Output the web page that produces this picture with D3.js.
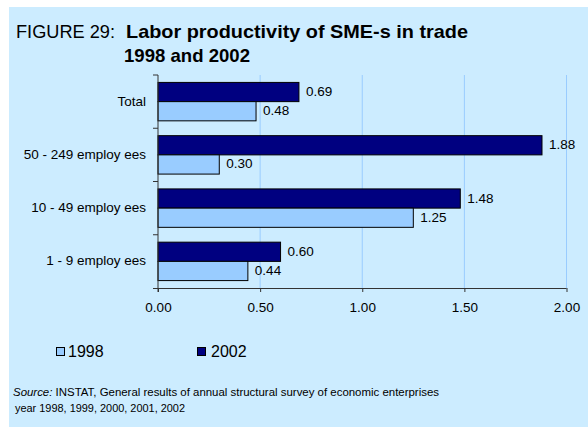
<!DOCTYPE html>
<html>
<head>
<meta charset="utf-8">
<script src="https://cdn.jsdelivr.net/npm/d3@7"></script>
<style>
  html, body { margin: 0; padding: 0; background: #ffffff; }
  svg { display: block; font-family: "Liberation Sans", Arial, sans-serif; }
</style>
</head>
<body>
<svg id="chart" width="588" height="427"></svg>
<script>
// Labor productivity of SME-s in trade, by enterprise size
const categories = ["Total", "50 - 249 employ ees", "10 - 49 employ ees", "1 - 9 employ ees"];
const seriesNames = ["2002", "1998"];
const values1998 = [0.48, 0.30, 1.25, 0.44];
const values2002 = [0.69, 1.88, 1.48, 0.60];
const xTicks = [0, 0.5, 1.0, 1.5, 2.0];
const legendLabels = ["1998", "2002"];

const colors = { "1998": "#99CCFF", "2002": "#000080" };
const bg = "#CCECFF";

const svg = d3.select("#chart");

// panel background
svg.append("rect")
  .attr("x", 9).attr("y", 7)
  .attr("width", 579).attr("height", 420)
  .attr("fill", bg);

// title
svg.append("text")
  .attr("x", 16).attr("y", 37.5)
  .attr("font-size", 19)
  .attr("textLength", 99)
  .attr("lengthAdjust", "spacingAndGlyphs")
  .text("FIGURE 29:");
svg.append("text")
  .attr("x", 126).attr("y", 37.5)
  .attr("font-size", 19)
  .attr("font-weight", "bold")
  .attr("textLength", 342)
  .attr("lengthAdjust", "spacingAndGlyphs")
  .text("Labor productivity of SME-s in trade");
svg.append("text")
  .attr("x", 124).attr("y", 62)
  .attr("font-size", 19)
  .attr("font-weight", "bold")
  .attr("textLength", 126)
  .attr("lengthAdjust", "spacingAndGlyphs")
  .text("1998 and 2002");

// plot area
const plot = { left: 158, right: 566.5, top: 75, bottom: 288 };

const x = d3.scaleLinear()
  .domain([0, 2])
  .range([plot.left, plot.right]);

const y = d3.scaleBand()
  .domain(categories)
  .range([plot.top, plot.bottom])
  .paddingInner(0).paddingOuter(0);

const ySeries = d3.scaleBand()
  .domain(seriesNames)
  .range([0, y.bandwidth()])
  .paddingInner(0)
  .paddingOuter(0.386);

// vertical gridlines
svg.append("g")
  .selectAll("line")
  .data(xTicks.filter(d => d > 0))
  .join("line")
  .attr("x1", d => x(d)).attr("x2", d => x(d))
  .attr("y1", plot.top).attr("y2", plot.bottom)
  .attr("stroke", "#99CCFF")
  .attr("stroke-width", 1);

// rows of data
const rows = categories.map((c, i) => ({
  category: c,
  items: [
    { series: "2002", value: values2002[i] },
    { series: "1998", value: values1998[i] }
  ]
}));

const groups = svg.append("g")
  .selectAll("g")
  .data(rows)
  .join("g")
  .attr("transform", d => `translate(0,${y(d.category)})`);

groups.selectAll("rect")
  .data(d => d.items)
  .join("rect")
  .attr("x", x(0))
  .attr("y", d => ySeries(d.series))
  .attr("width", d => x(d.value) - x(0))
  .attr("height", ySeries.bandwidth())
  .attr("fill", d => colors[d.series])
  .attr("stroke", "#000")
  .attr("stroke-width", 1);

groups.selectAll("text.val")
  .data(d => d.items)
  .join("text")
  .attr("class", "val")
  .attr("x", d => x(d.value) + 7)
  .attr("y", d => ySeries(d.series) + ySeries.bandwidth() / 2 + 4)
  .attr("font-size", 13.5)
  .attr("fill", "#000")
  .text(d => d3.format(".2f")(d.value));

// y axis
const yAxis = d3.axisLeft(y).tickSize(0).tickPadding(12);
const yG = svg.append("g")
  .attr("transform", `translate(${plot.left},0)`)
  .call(yAxis);
yG.select(".domain").remove();
yG.selectAll("text")
  .attr("font-size", 13.5)
  .attr("font-family", "Liberation Sans, Arial, sans-serif")
  .attr("fill", "#000")
  .attr("dy", "0.3em");

// y axis line and boundary ticks
const boundaries = categories.map(c => y(c));
svg.append("line")
  .attr("x1", plot.left).attr("x2", plot.left)
  .attr("y1", plot.top).attr("y2", plot.bottom + 4)
  .attr("stroke", "#333").attr("stroke-width", 1);
svg.append("g").selectAll("line")
  .data(boundaries)
  .join("line")
  .attr("x1", plot.left - 5).attr("x2", plot.left)
  .attr("y1", d => d).attr("y2", d => d)
  .attr("stroke", "#333").attr("stroke-width", 1);

// x axis
const xAxis = d3.axisBottom(x)
  .tickValues(xTicks)
  .tickFormat(d3.format(".2f"))
  .tickSize(4)
  .tickSizeOuter(0)
  .tickPadding(10);
const xG = svg.append("g")
  .attr("transform", `translate(0,${plot.bottom})`)
  .call(xAxis);
xG.select(".domain")
  .attr("d", `M${plot.left - 5},0.5H${plot.right}`)
  .attr("stroke", "#333");
xG.selectAll(".tick line").attr("stroke", "#333");
xG.selectAll("text")
  .attr("font-size", 13.5)
  .attr("font-family", "Liberation Sans, Arial, sans-serif")
  .attr("fill", "#000");

// legend
const legendPos = [{ sx: 56, tx: 68 }, { sx: 197, tx: 211 }];
const legend = svg.append("g")
  .selectAll("g")
  .data(legendLabels)
  .join("g");
legend.append("rect")
  .attr("x", (d, i) => legendPos[i].sx + 0.5)
  .attr("y", 347.5)
  .attr("width", 8).attr("height", 8)
  .attr("fill", d => colors[d])
  .attr("stroke", "#000").attr("stroke-width", 1);
legend.append("text")
  .attr("x", (d, i) => legendPos[i].tx)
  .attr("y", 356.5)
  .attr("font-size", 16)
  .text(d => d);

// source note
const src = svg.append("text")
  .attr("x", 13).attr("y", 396)
  .attr("font-size", 10)
  .attr("textLength", 426)
  .attr("lengthAdjust", "spacingAndGlyphs");
src.append("tspan").attr("font-style", "italic").text("Source:");
src.append("tspan").text(" INSTAT, General results of annual structural survey of economic enterprises");
svg.append("text")
  .attr("x", 15).attr("y", 412)
  .attr("font-size", 10)
  .attr("textLength", 170)
  .attr("lengthAdjust", "spacingAndGlyphs")
  .text("year 1998, 1999, 2000, 2001, 2002");
</script>
</body>
</html>
